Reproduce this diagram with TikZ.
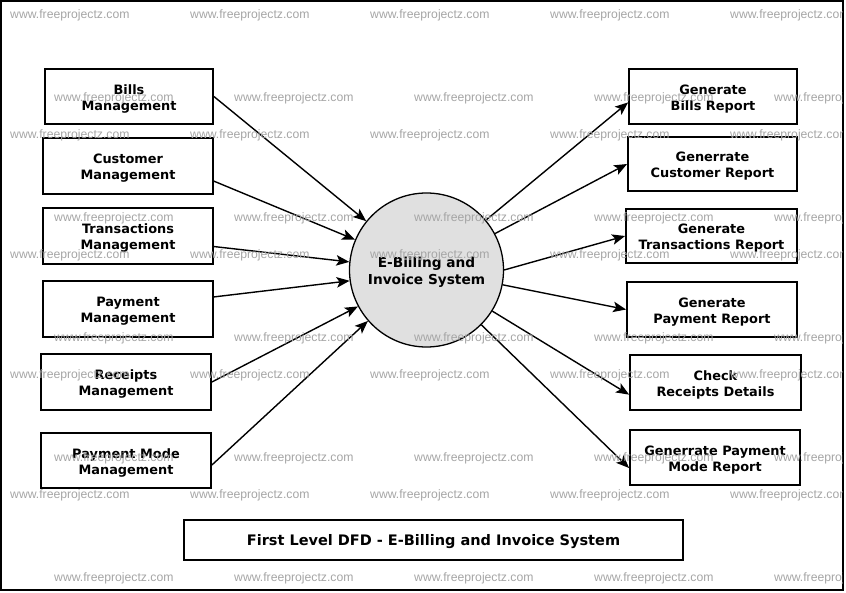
\documentclass[tikz,border=0pt]{standalone}
\usepackage{fontspec}
\setmainfont{DejaVu Sans}
\newfontfamily\wmfont{Liberation Sans}
\usetikzlibrary{arrows.meta}
\definecolor{circfill}{RGB}{224,224,224}
\definecolor{wmgray}{RGB}{165,165,165}
\newcommand{\entstrut}{\rule{0pt}{13.8pt}}
\newcommand{\procstrut}{\rule{0pt}{14.5pt}}
\tikzset{
  ent/.style={draw, line width=1.8pt, inner sep=0pt, align=center,
    font=\fontsize{12.9}{16}\selectfont\bfseries},
  proc/.style={draw, circle, line width=1.3pt, fill=circfill, inner sep=0pt,
    minimum size=154pt, align=center, font=\fontsize{13.7}{16.5}\selectfont\bfseries},
  ttl/.style={draw, line width=1.8pt, inner sep=0pt, minimum width=499pt, minimum height=40pt,
    font=\fontsize{14.5}{17}\selectfont\bfseries, execute at begin node={\rule{0pt}{15pt}}},
  flow/.style={line width=1.4pt, -{Stealth[length=13pt,width=10.5pt,inset=3pt]}},
  wm/.style={anchor=west, inner sep=0pt, text=wmgray, font=\fontsize{12.2}{14}\selectfont\wmfont}
}
\begin{document}
\begin{tikzpicture}[x=1pt,y=-1pt]
\useasboundingbox (0,0) rectangle (846,593);
\draw[line width=2pt] (1,1) rectangle (843,590);
% left entities
\node[ent, minimum width=168pt, minimum height=55pt] (bills) at (129,96.5) {\entstrut Bills\\Management};
\node[ent, minimum width=170pt, minimum height=56pt] (cust) at (128,166) {\entstrut Customer\\Management};
\node[ent, minimum width=170pt, minimum height=56pt] (trans) at (128,236) {\entstrut Transactions\\Management};
\node[ent, minimum width=170pt, minimum height=56pt] (pay) at (128,309) {\entstrut Payment\\Management};
\node[ent, minimum width=170pt, minimum height=56pt] (rec) at (126,382) {\entstrut Receipts\\Management};
\node[ent, minimum width=170pt, minimum height=55pt] (pmode) at (126,460.5) {\entstrut Payment Mode\\Management};
% right entities
\node[ent, minimum width=168pt, minimum height=55pt] (rbills) at (713,96.5) {\entstrut Generate\\Bills Report};
\node[ent, minimum width=169pt, minimum height=54pt] (rcust) at (712.5,164) {\entstrut Generrate\\Customer Report};
\node[ent, minimum width=171pt, minimum height=54pt] (rtrans) at (711.5,236) {\entstrut Generate\\Transactions Report};
\node[ent, minimum width=170pt, minimum height=55pt] (rpay) at (712,309.5) {\entstrut Generate\\Payment Report};
\node[ent, minimum width=171pt, minimum height=55pt] (rrec) at (715.5,382.5) {\entstrut Check\\Receipts Details};
\node[ent, minimum width=170pt, minimum height=55pt] (rpmode) at (715,457.5) {\entstrut Generrate Payment\\Mode Report};
% process
\node[proc] (sys) at (426.5,270) {\procstrut E-Biiling and\\Invoice System};
% title
\node[ttl] (title) at (433.5,540) {First Level DFD - E-Billing and Invoice System};
% flows in
\draw[flow] (bills.0) -- (sys.141);
\draw[flow] (cust.-10) -- (sys.157);
\draw[flow] (trans.-7) -- (sys.174);
\draw[flow] (pay.8) -- (sys.188);
\draw[flow] (rec.0) -- (sys.208);
\draw[flow] (pmode.-3) -- (sys.221);
% flows out
\draw[flow] (sys.40) -- (rbills.184);
\draw[flow] (sys.28) -- (rcust.180);
\draw[flow] (sys.0) -- (rtrans.180);
\draw[flow] (sys.-11) -- (rpay.180);
\draw[flow] (sys.-32) -- (rrec.188);
\draw[flow] (sys.-45) -- (rpmode.187);
% watermarks
\begin{scope}
\clip (2,2) rectangle (842,589);
\foreach \r/\y in {0/15,1/135,2/255,3/375,4/495}{
  \foreach \k in {0,...,4}{
    \node[wm] (wa-\r-\k) at (10+180*\k,\y) {www.freeprojectz.com};
  }
}
\foreach \r/\y in {0/98,1/218,2/338,3/458,4/578}{
  \foreach \k in {0,...,4}{
    \node[wm] (wb-\r-\k) at (54+180*\k,\y) {www.freeprojectz.com};
  }
}
\end{scope}
\end{tikzpicture}
\end{document}
